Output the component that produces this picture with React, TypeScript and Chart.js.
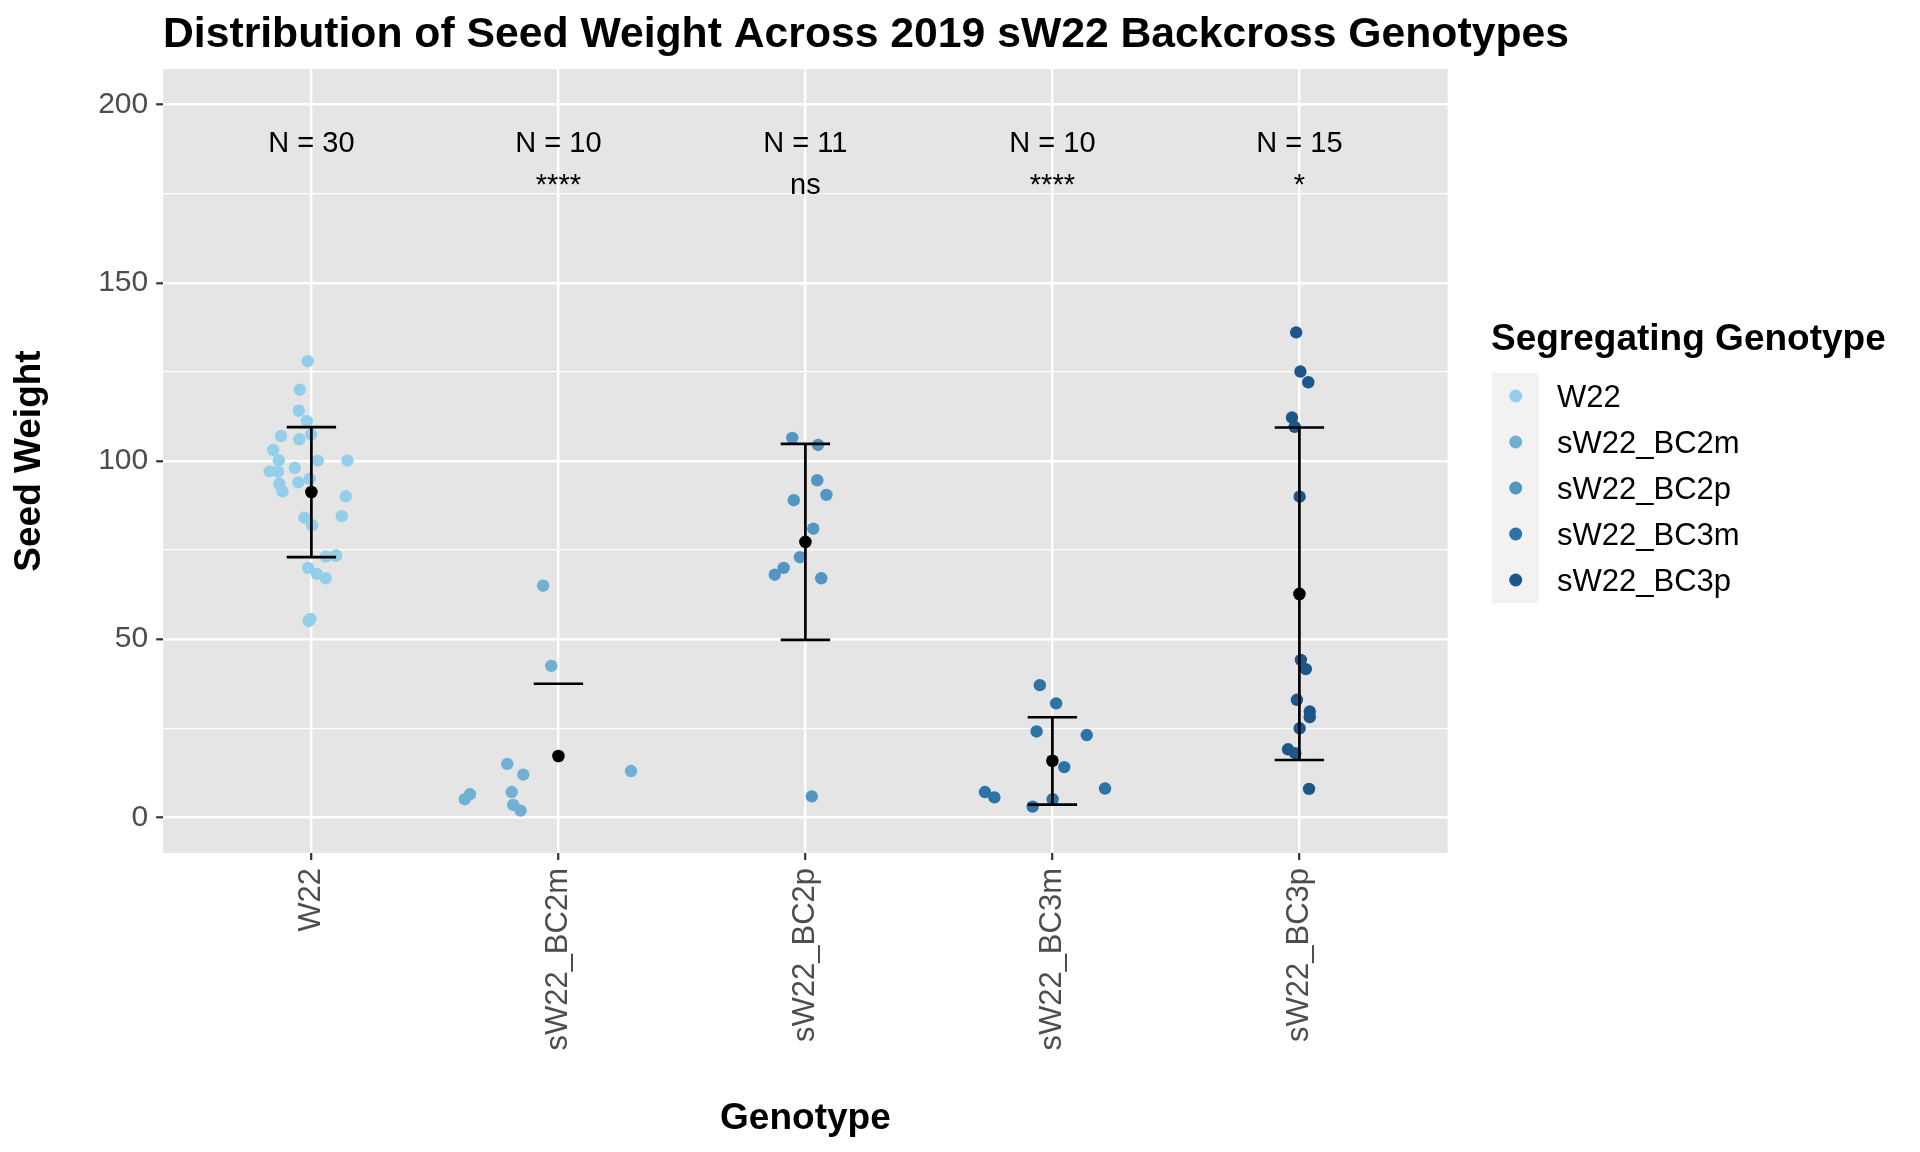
import React, { useEffect, useRef } from "react";
import { Chart, registerables } from "chart.js";

Chart.register(...registerables);

const categories = ["W22", "sW22_BC2m", "sW22_BC2p", "sW22_BC3m", "sW22_BC3p"];
const groupColors = ["#93CFEA", "#70B0D4", "#5297C3", "#2D73A6", "#1B578A"];
const nLabels = ["N = 30", "N = 10", "N = 11", "N = 10", "N = 15"];
const sigLabels = ["", "****", "ns", "****", "*"];

const w22Values = [128.0, 120.0, 114.1, 111.2, 107.5, 107.0, 106.1, 103.1, 100.2, 100.1, 100.1, 97.1, 97.0, 98.1, 95.0, 93.6, 94.0, 91.5, 90.1, 84.5, 84.1, 82.0, 73.2, 73.5, 70.0, 68.3, 67.1, 55.1, 55.7, 73.4];
const w22Jitter = [-0.015, -0.047, -0.051, -0.018, -0.001, -0.123, -0.049, -0.155, -0.132, 0.026, 0.146, -0.169, -0.135, -0.067, -0.007, -0.13, -0.053, -0.117, 0.139, 0.123, -0.028, 0.003, 0.058, 0.1, -0.013, 0.022, 0.058, -0.011, -0.004, 0.098];

const bc2mValues = [65.0, 42.5, 15.0, 12.0, 13.0, 6.5, 5.1, 7.1, 3.5, 1.9];
const bc2mJitter = [-0.062, -0.029, -0.207, -0.142, 0.294, -0.358, -0.379, -0.189, -0.183, -0.153];

const bc2pValues = [106.5, 104.5, 94.6, 90.5, 89.0, 81.0, 73.0, 70.0, 68.1, 67.1, 5.9];
const bc2pJitter = [-0.053, 0.051, 0.048, 0.085, -0.047, 0.032, -0.022, -0.088, -0.124, 0.064, 0.026];

const bc3mValues = [37.1, 32.0, 24.1, 23.1, 14.1, 8.1, 7.1, 5.6, 5.1, 3.0];
const bc3mJitter = [-0.051, 0.015, -0.064, 0.139, 0.048, 0.213, -0.273, -0.235, 0.001, -0.08];

const bc3pValues = [136.1, 125.1, 122.1, 112.2, 109.6, 90.0, 44.2, 41.6, 33.0, 29.7, 28.1, 25.0, 19.1, 18.0, 8.0];
const bc3pJitter = [-0.013, 0.004, 0.036, -0.03, -0.019, 0.001, 0.006, 0.026, -0.01, 0.042, 0.042, 0.001, -0.046, -0.017, 0.039];

const groupValues = [w22Values, bc2mValues, bc2pValues, bc3mValues, bc3pValues];
const groupJitter = [w22Jitter, bc2mJitter, bc2pJitter, bc3mJitter, bc3pJitter];

const means = [91.3, 17.2, 77.3, 15.9, 62.7];
const errLow = [73.05, -3.1, 49.8, 3.6, 16.1];
const errHigh = [109.5, 37.5, 104.8, 28.1, 109.4];

const nLabelY = 186.7;
const sigLabelY = 175.0;

const FONT = "'Liberation Sans', Arial, Helvetica, sans-serif";

export default function App() {
  const canvasRef = useRef<HTMLCanvasElement | null>(null);

  useEffect(() => {
    if (!canvasRef.current) return;

    const capHalf = 0.1;
    const errData: any[] = [];
    categories.forEach((_, i) => {
      const c = i + 1;
      errData.push({ x: c - capHalf, y: errHigh[i] }, { x: c + capHalf, y: errHigh[i] }, { x: c, y: null });
      if (errLow[i] >= 0) {
        errData.push({ x: c, y: errLow[i] }, { x: c, y: errHigh[i] }, { x: c, y: null });
        errData.push({ x: c - capHalf, y: errLow[i] }, { x: c + capHalf, y: errLow[i] }, { x: c, y: null });
      }
    });

    const pointSets = categories.map((name, i) => ({
      label: name,
      type: "scatter" as const,
      data: groupValues[i].map((v, k) => ({ x: i + 1 + groupJitter[i][k], y: v })),
      pointRadius: 6.2,
      pointHoverRadius: 6.2,
      pointBackgroundColor: groupColors[i],
      pointBorderWidth: 0,
      borderColor: groupColors[i],
      order: 2,
    }));

    const bgPlugin = {
      id: "panelBg",
      beforeDraw(chart: any) {
        const { ctx, chartArea } = chart;
        ctx.save();
        ctx.fillStyle = "#FFFFFF";
        ctx.fillRect(0, 0, chart.width, chart.height);
        ctx.fillStyle = "#E5E5E5";
        ctx.fillRect(chartArea.left, chartArea.top, chartArea.right - chartArea.left, chartArea.bottom - chartArea.top);
        ctx.restore();
      },
    };

    const textPlugin = {
      id: "texts",
      afterDraw(chart: any) {
        const { ctx, chartArea } = chart;
        const xs = chart.scales.x;
        const ys = chart.scales.y;
        ctx.save();
        // title
        ctx.fillStyle = "#000000";
        ctx.font = `bold 42.7px ${FONT}`;
        ctx.textAlign = "left";
        ctx.textBaseline = "alphabetic";
        ctx.fillText("Distribution of Seed Weight Across 2019 sW22 Backcross Genotypes", 163, 46.7);

        // axis titles
        ctx.font = `bold 37px ${FONT}`;
        ctx.textAlign = "center";
        ctx.fillText("Genotype", (chartArea.left + chartArea.right) / 2, 1129);
        ctx.save();
        ctx.translate(40, (chartArea.top + chartArea.bottom) / 2);
        ctx.rotate(-Math.PI / 2);
        ctx.fillText("Seed Weight", 0, 0);
        ctx.restore();

        // annotations
        ctx.font = `29px ${FONT}`;
        ctx.textAlign = "center";
        categories.forEach((_, i) => {
          const px = xs.getPixelForValue(i + 1);
          ctx.fillText(nLabels[i], px, ys.getPixelForValue(nLabelY));
          if (sigLabels[i]) ctx.fillText(sigLabels[i], px, ys.getPixelForValue(sigLabelY));
        });

        // legend
        ctx.textAlign = "left";
        ctx.font = `bold 37px ${FONT}`;
        ctx.fillText("Segregating Genotype", 1491, 350);
        const keyX = 1492;
        const keyTop = 373;
        const keySize = 46;
        ctx.fillStyle = "#F2F2F2";
        ctx.fillRect(keyX, keyTop, 47, keySize * categories.length);
        ctx.font = `31px ${FONT}`;
        categories.forEach((name, i) => {
          const cy = keyTop + keySize * i + 23;
          ctx.fillStyle = groupColors[i];
          ctx.beginPath();
          ctx.arc(1515.7, cy, 6.5, 0, Math.PI * 2);
          ctx.fill();
          ctx.fillStyle = "#000000";
          ctx.fillText(name, 1557, cy + 11.2);
        });
        ctx.restore();
      },
    };

    const chart = new Chart(canvasRef.current, {
      type: "scatter",
      data: {
        datasets: [
          {
            label: "mean",
            type: "scatter",
            data: means.map((m, i) => ({ x: i + 1, y: m })),
            pointRadius: 6.3,
            pointHoverRadius: 6.3,
            pointBackgroundColor: "#000000",
            pointBorderWidth: 0,
            borderColor: "#000000",
            order: 0,
          },
          {
            label: "sd",
            type: "scatter",
            data: errData,
            showLine: true,
            spanGaps: false,
            borderColor: "#000000",
            borderWidth: 2.7,
            borderCapStyle: "butt",
            pointRadius: 0,
            pointHoverRadius: 0,
            tension: 0,
            order: 1,
          } as any,
          ...pointSets,
        ],
      },
      options: {
        animation: false,
        responsive: true,
        maintainAspectRatio: false,
        events: [],
        layout: { padding: { top: 69, right: 472.4, left: 0, bottom: 0 } },
        plugins: {
          legend: { display: false },
          title: { display: false },
          tooltip: { enabled: false },
        },
        scales: {
          x: {
            type: "linear",
            min: 0.4,
            max: 5.6,
            afterFit: (s: any) => {
              s.height = 299;
            },
            border: { display: false },
            grid: {
              color: "#FFFFFF",
              lineWidth: 2.4,
              tickColor: "#333333",
              tickLength: 7,
              tickWidth: 2.2,
              drawTicks: true,
            },
            ticks: {
              stepSize: 1,
              includeBounds: false,
              autoSkip: false,
              minRotation: 90,
              maxRotation: 90,
              padding: 8,
              color: "#4D4D4D",
              font: { family: FONT, size: 31 },
              callback: (v: any) => categories[Math.round(Number(v)) - 1] ?? "",
            },
          },
          y: {
            type: "linear",
            min: -10,
            max: 210,
            afterFit: (s: any) => {
              s.width = 163.2;
            },
            border: { display: false },
            grid: {
              color: "#FFFFFF",
              lineWidth: (ctx: any) => (ctx.tick && ctx.tick.value % 50 === 0 ? 2.6 : 1.3),
              tickColor: (ctx: any) => (ctx.tick && ctx.tick.value % 50 === 0 ? "#333333" : "rgba(0,0,0,0)"),
              tickLength: 7,
              tickWidth: 2.2,
              drawTicks: true,
            },
            ticks: {
              stepSize: 25,
              includeBounds: false,
              autoSkip: false,
              padding: 8,
              color: "#4D4D4D",
              font: { family: FONT, size: 30 },
              callback: (v: any) => (Number(v) % 50 === 0 ? String(v) : ""),
            },
          },
        },
      } as any,
      plugins: [bgPlugin, textPlugin],
    });

    return () => {
      chart.destroy();
    };
  }, []);

  return (
    <div style={{ position: "absolute", left: 0, top: 0, width: 1920, height: 1152, background: "#FFFFFF" }}>
      <canvas ref={canvasRef} />
    </div>
  );
}
